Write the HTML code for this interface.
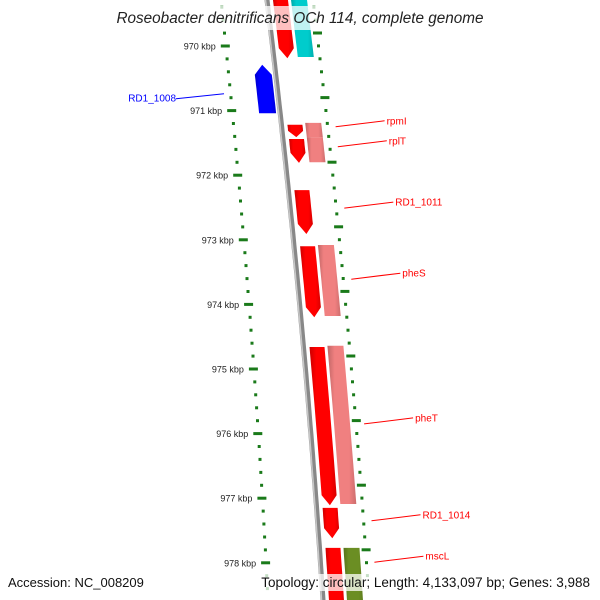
<!DOCTYPE html>
<html><head><meta charset="utf-8"><style>
body{margin:0;background:#fff}
svg{display:block;font-family:"Liberation Sans",sans-serif}
</style></head><body>
<svg id="map" width="600" height="600" viewBox="0 0 600 600">
<defs></defs>
<g id="ticks"></g>
<g id="genes"></g>
<g id="labels"></g>
<rect x="110" y="6" width="385" height="24" fill="#fff" fill-opacity="0.75"/>
<text x="300" y="23" text-anchor="middle" font-size="15.3" font-style="italic" fill="#222">Roseobacter denitrificans OCh 114, complete genome</text>
<rect x="0" y="574" width="600" height="17" fill="#fff" fill-opacity="0.75"/>
<text x="8" y="587" font-size="13" fill="#111">Accession: NC_008209</text>
<text x="590" y="587" text-anchor="end" font-size="13.5" fill="#111">Topology: circular; Length: 4,133,097 bp; Genes: 3,988</text>
</svg>
<script>
const geneNames=["gene-top","gene-top-cyan","RD1_1008","rpmI","rpmI-pink","rplT","rplT-pink","RD1_1011","pheS","pheS-pink","pheT","pheT-pink","RD1_1014","mscL","mscL-green","gene-bottom"];
const geneStarts=[969.2,969.2,970.29,971.22,971.19,971.44,971.41,972.23,973.10,973.08,974.66,974.64,977.15,977.77,977.77,978.62];
const geneEnds=[970.19,970.17,971.04,971.41,971.41,971.81,971.80,972.91,974.20,974.18,977.11,977.09,977.62,978.8,978.8,978.8];
const geneTracks=[1,2,-1,1,2,1,2,1,1,2,1,2,1,1,2,-1];
const geneArrow=["down","none","up","down","none","down","none","down","down","none","down","none","down","none","none","up"];
const geneColors=["#ff0000","#00cccc","#0000ff","#ff0000","#f08080","#ff0000","#f08080","#ff0000","#ff0000","#f08080","#ff0000","#f08080","#ff0000","#ff0000","#6b8e23","#0000ff"];
const labelTexts=["RD1_1008","rpmI","rplT","RD1_1011","pheS","pheT","RD1_1014","mscL"];
const labelKbp=[970.74,971.25,971.56,972.51,973.61,975.85,977.35,977.99];
const labelSide=[-1,1,1,1,1,1,1,1];
const majorTicks=[970,971,972,973,974,975,976,977,978];

const NS="http://www.w3.org/2000/svg";
const yOf=k=>46+(k-970)*64.6;
const bx=y=>267+0.1215*y-4.7e-5*y*y;
const trackOff={1:[6,21],2:[24,40],"-1":[-21,-4]};
function mk(tag,attrs,parent){const e=document.createElementNS(NS,tag);for(const a in attrs)e.setAttribute(a,attrs[a]);parent.appendChild(e);return e;}
const svg=document.getElementById('map');
const gT=document.getElementById('ticks'),gG=document.getElementById('genes'),gL=document.getElementById('labels');

let bp=[];for(let y=-5;y<=605;y+=10)bp.push((bx(y)).toFixed(1)+","+y);
const bb=mk('polyline',{points:bp.join(" "),fill:"none",stroke:"#888",'stroke-width':5},gG);


const bb2=mk('polyline',{points:bp.join(" "),fill:"none",stroke:"#c8c8c8",'stroke-width':1.5,transform:"translate(-1.5,0)"},gG);



for(let k=969.2;k<=978.81;k+=0.2){
  const kk=Math.round(k*10)/10;const y=yOf(kk);if(y<0||y>600)continue;
  const major=majorTicks.includes(Math.round(kk))&&Math.abs(kk-Math.round(kk))<0.01;
  const xi=bx(y)-46-9*(y/600);
  const t=mk('rect',{x:(major?xi-5:xi-1.5).toFixed(1),y:(y-1.5).toFixed(1),width:major?9:3,height:3,fill:"#1a7a1a"},gT);
  
  
  if(major){const l=mk('text',{x:(xi-10).toFixed(1),y:(y+3.5).toFixed(1),'text-anchor':'end','font-size':9,fill:"#222"},gT);l.textContent=Math.round(kk)+" kbp";
    
    }
  const yo=y-13;if(yo<0)continue;
  const xo=bx(yo)+46;
  const o=mk('rect',{x:(major?xo-4:xo-1.5).toFixed(1),y:(yo-1.5).toFixed(1),width:major?9:3,height:3,fill:"#1a7a1a"},gT);
  
  
}

function shade(c,f){const n=parseInt(c.slice(1),16);let r=n>>16,g=(n>>8)&255,b=n&255;return "rgb("+Math.round(r*f)+","+Math.round(g*f)+","+Math.round(b*f)+")";}
geneNames.forEach((nm,i)=>{
  const y1=yOf(geneStarts[i]),y2=yOf(geneEnds[i]);const [o1,o2]=trackOff[geneTracks[i]];
  const ah=Math.min(10,(y2-y1)*0.5);const dir=geneArrow[i];
  const a=dir==="up"?y1+ah:y1, b=dir==="down"?y2-ah:y2;
  const L=[],R=[];const n=8;
  for(let s=0;s<=n;s++){const y=a+(b-a)*s/n;L.push([bx(y)+o1,y]);R.push([bx(y)+o2,y]);}
  let pts=[];
  if(dir==="up"){pts.push([bx(y1)+(o1+o2)/2,y1]);}
  pts=pts.concat(R);
  if(dir==="down"){pts.push([bx(y2)+(o1+o2)/2,y2]);}
  pts=pts.concat(L.reverse());
  const id='g'+i;
  const gr=mk('linearGradient',{id:id,x1:0,x2:1},svg.querySelector('defs'));
  mk('stop',{offset:0,'stop-color':shade(geneColors[i],0.8)},gr);
  mk('stop',{offset:0.25,'stop-color':geneColors[i]},gr);
  mk('stop',{offset:0.75,'stop-color':geneColors[i]},gr);
  mk('stop',{offset:1,'stop-color':shade(geneColors[i],0.85)},gr);
  const p=mk('polygon',{points:pts.map(q=>q[0].toFixed(1)+","+q[1].toFixed(1)).join(" "),fill:"url(#"+id+")"},gG);
  
  
});

labelTexts.forEach((t,i)=>{
  const y=yOf(labelKbp[i]);
  const col=labelSide[i]<0?"#0000ff":"#ff0000";
  let x0,y0,x1,y1,tx,ty,anchor;
  if(labelSide[i]>0){x0=bx(y)+54;y0=y;x1=x0+49;y1=y-6;tx=x1+2;ty=y1;anchor="start";}
  else{x0=bx(y)-54;y0=y;x1=x0-48;y1=y+5;tx=x1;ty=y1-1;anchor="end";}
  const l=mk('line',{x1:x0.toFixed(1),y1:y0.toFixed(1),x2:x1.toFixed(1),y2:y1.toFixed(1),stroke:col,'stroke-width':1},gL);
  
  
  const tx_=mk('text',{x:tx.toFixed(1),y:(ty+3.5).toFixed(1),'text-anchor':anchor,'font-size':10,fill:col},gL);
  tx_.textContent=t;
  
  
});
</script>
</body></html>
